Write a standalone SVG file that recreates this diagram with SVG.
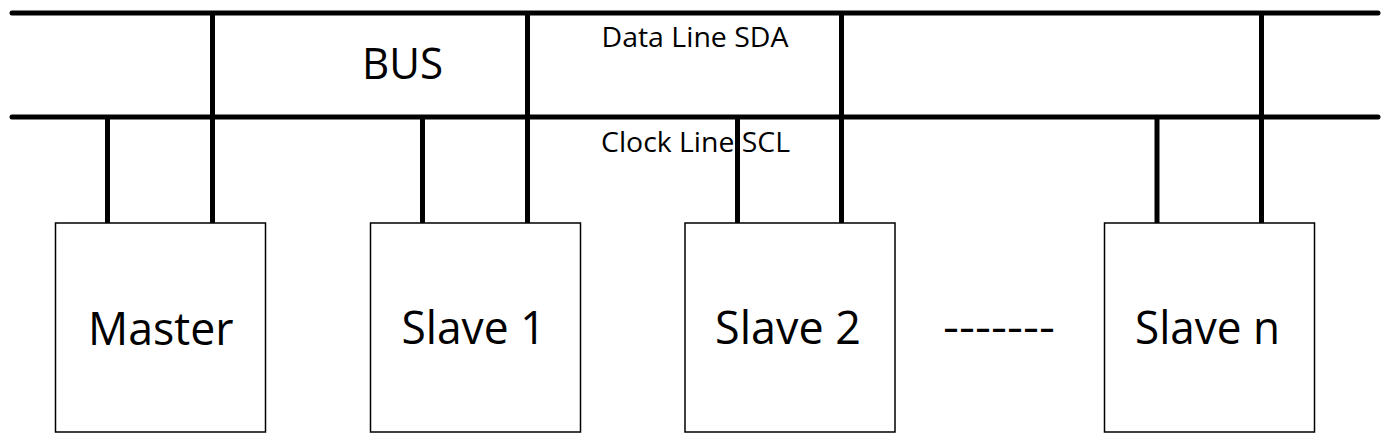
<svg xmlns="http://www.w3.org/2000/svg" width="1388" height="446" viewBox="0 0 1388 446">
<style>
.bus{stroke:#000;stroke-width:5;stroke-linecap:round;fill:none}
.tap{stroke:#000;stroke-width:5;stroke-linecap:butt;fill:none}
.box{fill:#fff;stroke:#000;stroke-width:1.5}
.lbl{font-family:"Open Sans","Noto Sans",sans-serif;fill:#000}
.big{font-size:46px}
.small{font-size:27px}
</style>
<rect width="1388" height="446" fill="#fff"/>
<g id="connectors">
<line class="bus" x1="12" y1="13" x2="1378" y2="13"/>
<line class="bus" x1="12" y1="117" x2="1378" y2="117"/>
<line class="tap" x1="107.5" y1="117" x2="107.5" y2="223"/>
<line class="tap" x1="212.5" y1="13" x2="212.5" y2="223"/>
<line class="tap" x1="422.5" y1="117" x2="422.5" y2="223"/>
<line class="tap" x1="527.5" y1="13" x2="527.5" y2="223"/>
<line class="tap" x1="737.5" y1="117" x2="737.5" y2="223"/>
<line class="tap" x1="841.5" y1="13" x2="841.5" y2="223"/>
<line class="tap" x1="1157" y1="117" x2="1157" y2="223"/>
<line class="tap" x1="1261.5" y1="13" x2="1261.5" y2="223"/>
</g>
<g id="bus-labels">
<text class="lbl" x="362" y="79" font-size="44" textLength="81" lengthAdjust="spacingAndGlyphs">BUS</text>
<text class="lbl small" x="601.5" y="47" textLength="187" lengthAdjust="spacingAndGlyphs">Data Line SDA</text>
<text class="lbl small" x="601" y="152" textLength="189" lengthAdjust="spacingAndGlyphs">Clock Line SCL</text>
</g>
<g id="master">
<rect class="box" x="55.5" y="223" width="210" height="209"/>
<text class="lbl big" x="88" y="344.5" textLength="145.5" lengthAdjust="spacingAndGlyphs">Master</text>
</g>
<g id="slave1">
<rect class="box" x="370.5" y="223" width="210" height="209"/>
<text class="lbl big" x="401.5" y="343.5" textLength="144" lengthAdjust="spacingAndGlyphs">Slave 1</text>
</g>
<g id="slave2">
<rect class="box" x="685" y="223" width="210" height="209"/>
<text class="lbl big" x="715" y="343.5" textLength="146" lengthAdjust="spacingAndGlyphs">Slave 2</text>
</g>
<g id="ellipsis">
<text class="lbl big" x="943" y="343" textLength="112" lengthAdjust="spacingAndGlyphs">-------</text>
</g>
<g id="slaven">
<rect class="box" x="1104.5" y="223" width="210" height="209"/>
<text class="lbl big" x="1135" y="344" textLength="145" lengthAdjust="spacingAndGlyphs">Slave n</text>
</g>
</svg>
